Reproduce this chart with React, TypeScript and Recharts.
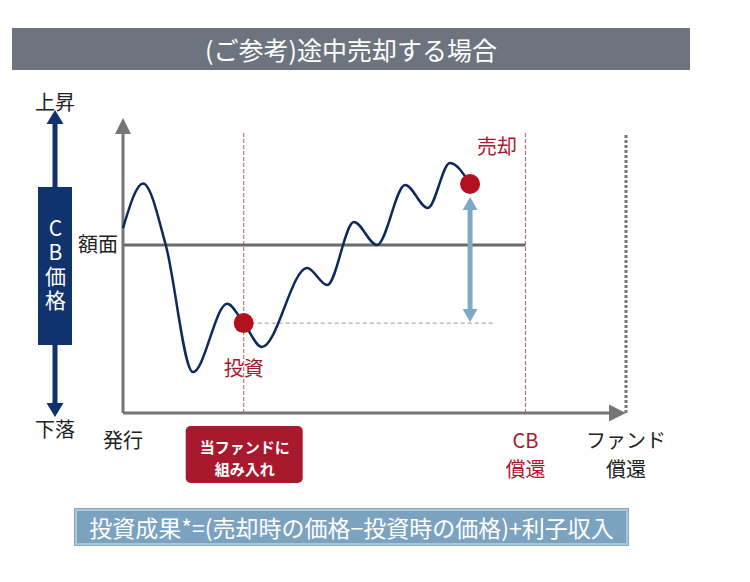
import React from "react";
import { LineChart, Line, XAxis, YAxis, ReferenceLine, ReferenceDot } from "recharts";

// time runs 0 (発行) .. 100 (ファンド償還); price 0..100, 額面 = 60
const timePoints = [0, 4, 8.5, 13.9, 20.7, 24, 27.6, 36.6, 40.6, 45.9, 50.5, 56.1, 60.6, 65, 69];
const cbPrices = [66, 82, 60, 14.6, 39, 32.1, 23.6, 51.8, 45.7, 68.2, 60, 81.4, 73.2, 89.3, 81.8];

const faceValue = 60;
const investIndex = 5;
const sellIndex = 14;
const cbRedemptionTime = 80;
const fundRedemptionTime = 100;

const timeTicks = [0, 24, 80, 100];
const tickLabels = [["発行"], ["当ファンドに", "組み入れ"], ["CB", "償還"], ["ファンド", "償還"]];

const chartData = timePoints.map((t, i) => ({ t, price: cbPrices[i] }));

const investTime = timePoints[investIndex];
const investPrice = cbPrices[investIndex];
const sellTime = timePoints[sellIndex];
const sellPrice = cbPrices[sellIndex];

const FONT = '"Noto Sans CJK JP", "Noto Sans", sans-serif';
const GRAY = "#767676";
const RED = "#a8192e";
const NAVY = "#0d2a5e";
const BLUE = "#7ea8c4";

// arrow heads, tip sits on the reference point
const headUp = (color: string, w: number, h: number) => (p: any) => (
  <polygon points={`${p.cx},${p.cy} ${p.cx - w / 2},${p.cy + h} ${p.cx + w / 2},${p.cy + h}`} fill={color} />
);
const headDown = (color: string, w: number, h: number) => (p: any) => (
  <polygon points={`${p.cx},${p.cy} ${p.cx - w / 2},${p.cy - h} ${p.cx + w / 2},${p.cy - h}`} fill={color} />
);
const headRight = (color: string, w: number, h: number) => (p: any) => (
  <polygon points={`${p.cx},${p.cy} ${p.cx - h},${p.cy - w / 2} ${p.cx - h},${p.cy + w / 2}`} fill={color} />
);

function TimeTick(props: any) {
  const { x, y, payload } = props;
  const idx = timeTicks.indexOf(payload.value);
  const lines = tickLabels[idx] || [];
  if (payload.value === investTime) {
    return (
      <g>
        <rect x={x - 58} y={y + 13} width={117} height={57} rx={5} fill={RED} />
        <text x={x + 1} y={y + 32.5} textAnchor="middle" dominantBaseline="central"
          fill="#fff" fontSize={15} fontWeight="bold" fontFamily={FONT}>
          {lines.map((s, i) => (
            <tspan key={s} x={x + 1} dy={i === 0 ? 0 : 22}>{s}</tspan>
          ))}
        </text>
      </g>
    );
  }
  const color = payload.value === cbRedemptionTime ? RED : "#222";
  return (
    <text x={x} y={y + 26} textAnchor="middle" dominantBaseline="central"
      fill={color} fontSize={20} fontFamily={FONT}>
      {lines.map((s, i) => (
        <tspan key={s} x={x} dy={i === 0 ? 0 : 29}>{s}</tspan>
      ))}
    </text>
  );
}

function PriceArrow() {
  // left-hand "CB価格" up/down arrow
  return (
    <>
      <svg width={750} height={582} style={{ position: "absolute", left: 0, top: 0, pointerEvents: "none" }}>
        <text x={55} y={101} textAnchor="middle" dominantBaseline="central" fontSize={20} fill="#222" fontFamily={FONT}>上昇</text>
        <text x={55} y={428} textAnchor="middle" dominantBaseline="central" fontSize={20} fill="#222" fontFamily={FONT}>下落</text>
        <rect x={52.5} y={120} width={5} height={286} fill="#11336d" />
        <polygon points="55,110 46.5,124 63.5,124" fill="#11336d" />
        <polygon points="55,417 46.5,403 63.5,403" fill="#11336d" />
      </svg>
      <div style={{ position: "absolute", left: 38, top: 187, width: 34, height: 158, background: "#11336d", color: "#fff",
        display: "flex", alignItems: "center", justifyContent: "center", fontSize: 21, lineHeight: 1 }}>
        <span style={{ writingMode: "vertical-rl", textOrientation: "upright", letterSpacing: 3 }}>CB価格</span>
      </div>
    </>
  );
}

export default function App() {
  return (
    <div style={{ position: "absolute", left: 0, top: 0, width: 750, height: 582, background: "#fff", fontFamily: FONT }}>
      <div style={{ position: "absolute", left: 12, top: 28, width: 678, height: 42, background: "#6e747f", color: "#fff",
        fontSize: 25, lineHeight: "42px", textAlign: "center" }}>
        (ご参考)途中売却する場合
      </div>
      <PriceArrow />
      <div style={{ position: "absolute", left: 0, top: 0 }}>
        <LineChart width={750} height={582} data={chartData} margin={{ top: 133, right: 124, bottom: 109, left: 123 }}>
          <XAxis dataKey="t" type="number" domain={[0, 100]} ticks={timeTicks} interval={0} axisLine={false}
            tickLine={false} tickSize={0} tickMargin={0} height={60} tick={<TimeTick />} />
          <YAxis type="number" domain={[0, 100]} hide />
          <ReferenceLine segment={[{ x: investTime, y: 0 }, { x: investTime, y: 100 }]} stroke="#b35a5e" strokeWidth={1} strokeDasharray="4 2" />
          <ReferenceLine segment={[{ x: cbRedemptionTime, y: 0 }, { x: cbRedemptionTime, y: 100 }]} stroke="#b35a5e" strokeWidth={1} strokeDasharray="4 2" />
          <ReferenceLine segment={[{ x: fundRedemptionTime, y: 0 }, { x: fundRedemptionTime, y: 100 }]} stroke={GRAY} strokeWidth={3} strokeDasharray="3 2" />
          <ReferenceLine segment={[{ x: 0, y: faceValue }, { x: cbRedemptionTime, y: faceValue }]} stroke="#6a6a6a" strokeWidth={3}
            label={{ value: "額面", position: "left", offset: 5, fontSize: 20, fill: "#222" }} />
          <ReferenceLine segment={[{ x: investTime, y: investPrice }, { x: sellTime + 4.8, y: investPrice }]} stroke="#9a9a9a" strokeWidth={1} strokeDasharray="4 3" />
          <ReferenceLine segment={[{ x: 0, y: 0 }, { x: 0, y: 100 }]} stroke={GRAY} strokeWidth={3} />
          <ReferenceLine segment={[{ x: 0, y: 0 }, { x: 97, y: 0 }]} stroke={GRAY} strokeWidth={3} />
          <ReferenceDot x={0} y={105.4} ifOverflow="visible" shape={headUp(GRAY, 16, 16)} />
          <ReferenceDot x={100} y={0} ifOverflow="visible" shape={headRight(GRAY, 17, 17)} />
          <Line type="monotone" dataKey="price" stroke={NAVY} strokeWidth={2.5} dot={false} activeDot={false} isAnimationActive={false} />
          <ReferenceLine segment={[{ x: sellTime, y: investPrice + 3 }, { x: sellTime, y: sellPrice - 6 }]} stroke={BLUE} strokeWidth={5} />
          <ReferenceDot x={sellTime} y={sellPrice - 4.7} shape={headUp(BLUE, 15, 13)} />
          <ReferenceDot x={sellTime} y={investPrice + 0.4} shape={headDown(BLUE, 15, 13)} />
          <ReferenceDot x={investTime} y={investPrice} r={10} fill="#b3101f" stroke="none"
            label={{ value: "投資", position: "bottom", offset: 29, fontSize: 20, fill: RED }} />
          <ReferenceDot x={sellTime} y={sellPrice} r={10} fill="#b3101f" stroke="none"
            label={(p: any) => (
              <text x={p.viewBox.x + 37} y={p.viewBox.y - 28} textAnchor="middle" dominantBaseline="central"
                fontSize={20} fill={RED} fontFamily={FONT}>売却</text>
            )} />
        </LineChart>
      </div>
      <div style={{ position: "absolute", left: 75, top: 509, width: 553, height: 36, boxSizing: "border-box",
        background: "#7ba3c0", border: "2px solid #a9c6da", outline: "1px solid #8aa9bf", color: "#fff", fontSize: 23,
        lineHeight: "32px", textAlign: "center", whiteSpace: "nowrap" }}>
        投資成果*=(売却時の価格−投資時の価格)+利子収入
      </div>
    </div>
  );
}
